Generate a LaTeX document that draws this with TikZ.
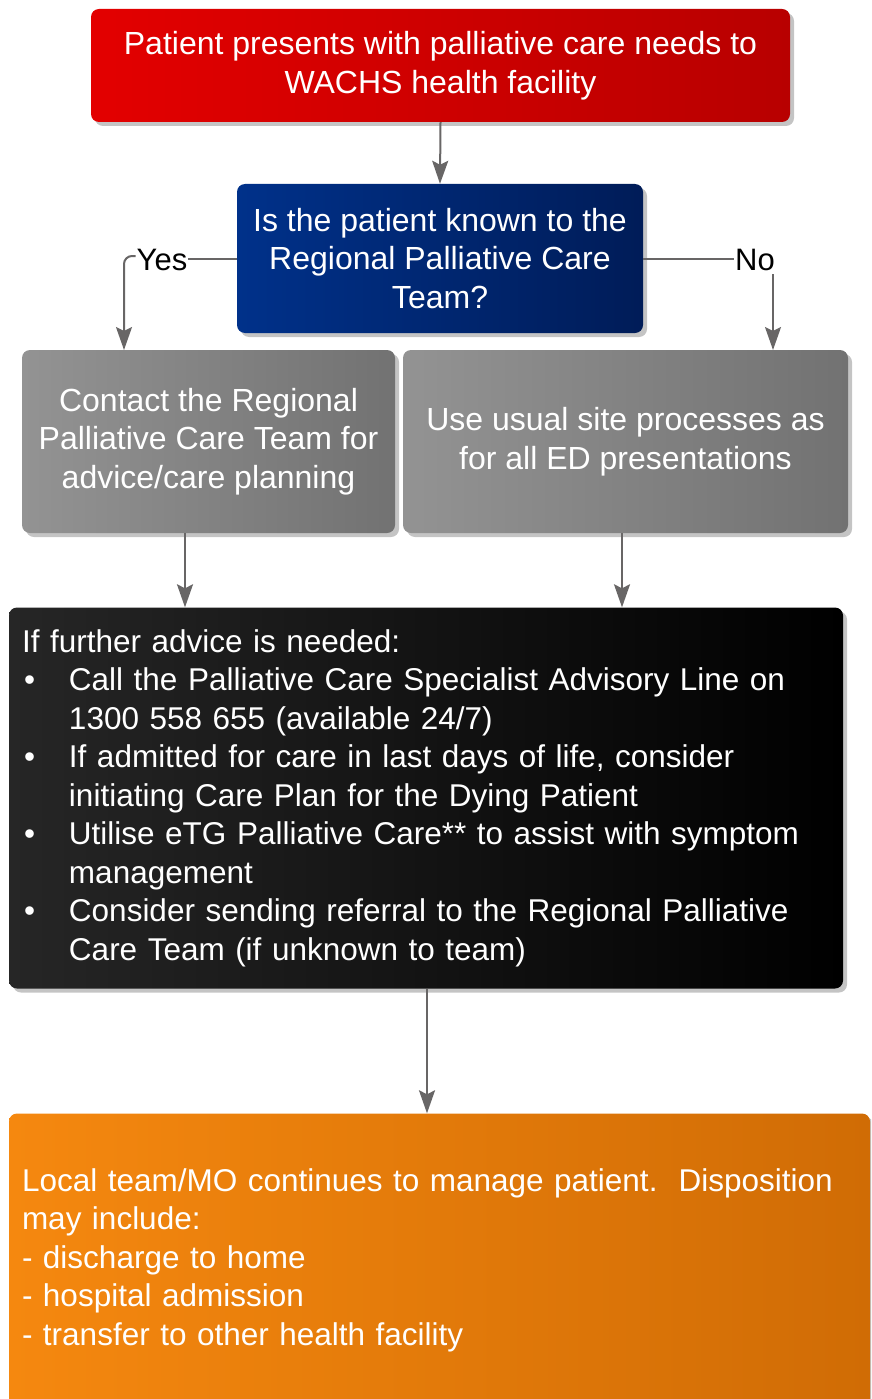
\documentclass[tikz,border=0pt]{standalone}
\usepackage{fontspec}
\setmainfont{Liberation Sans}
\usetikzlibrary{arrows.meta,shadows,calc}
\definecolor{redA}{HTML}{E30000}
\definecolor{redB}{HTML}{B80000}
\definecolor{blueA}{HTML}{00318A}
\definecolor{blueB}{HTML}{001C58}
\definecolor{greyA}{HTML}{939393}
\definecolor{greyB}{HTML}{727272}
\definecolor{blkA}{HTML}{262626}
\definecolor{blkB}{HTML}{000000}
\definecolor{orA}{HTML}{F5880F}
\definecolor{orB}{HTML}{D06C05}
\definecolor{arrC}{HTML}{686666}
\definecolor{shC}{HTML}{C4C4C4}
\tikzset{
  box/.style={rounded corners=8pt, inner sep=0pt, text=white,
    drop shadow={shadow xshift=4pt, shadow yshift=-4pt, fill=shC, opacity=1, rounded corners=8pt}},
  cbox/.style={box, align=center, font=\fontsize{32}{38.5}\selectfont},
  lbox/.style={box, align=left, inner xsep=13pt, font=\fontsize{31.5}{38.5}\selectfont},
  lab/.style={font=\fontsize{31}{36}\selectfont, inner sep=1pt, text=black},
  conn/.style={draw=arrC, line width=2pt},
  arr/.style={conn, -{Stealth[length=23pt,width=16pt,inset=4pt]}},
}
\begin{document}
\begin{tikzpicture}[x=1pt,y=-1pt]
\useasboundingbox (0,0) rectangle (871,1399);
\begin{scope}
\clip (0,0) rectangle (871,1399);
\node[cbox, left color=redA, right color=redB, minimum width=699pt, minimum height=113pt] (start) at (440.5,65.5)
  {Patient presents with palliative care needs to\\WACHS health facility};
\node[cbox, left color=blueA, right color=blueB, minimum width=406pt, minimum height=149pt] (q) at (440,258.5)
  {Is the patient known to the\\Regional Palliative Care\\Team?};
\node[cbox, left color=greyA, right color=greyB, minimum width=373pt, minimum height=183pt] (known) at (208.5,441.5)
  {Contact the Regional\\Palliative Care Team for\\advice/care planning};
\node[cbox, left color=greyA, right color=greyB, minimum width=445pt, minimum height=183pt] (usual) at (625.5,441.5)
  {Use usual site processes as\\for all ED presentations};
\node[lbox, left color=blkA, right color=blkB, text width=808pt, minimum height=381pt] (adv) at (426,798)
  {If further advice is needed:\\
   \makebox[47pt][l]{\hspace{2pt}\textbullet}Call the Palliative Care Specialist Advisory Line on\\
   \hspace*{47pt}1300 558 655 (available 24/7)\\
   \makebox[47pt][l]{\hspace{2pt}\textbullet}If admitted for care in last days of life, consider\\
   \hspace*{47pt}initiating Care Plan for the Dying Patient\\
   \makebox[47pt][l]{\hspace{2pt}\textbullet}Utilise eTG Palliative Care** to assist with symptom\\
   \hspace*{47pt}management\\
   \makebox[47pt][l]{\hspace{2pt}\textbullet}Consider sending referral to the Regional Palliative\\
   \hspace*{47pt}Care Team (if unknown to team)};
\node[lbox, left color=orA, right color=orB, text width=835pt, minimum height=293pt] (local) at (439.5,1260)
  {Local team/MO continues to manage patient.\ \ Disposition\\
   may include:\\
   - discharge to home\\
   - hospital admission\\
   - transfer to other health facility};
\end{scope}
\node[lab] (yes) at (162,260) {Yes};
\node[lab] (no) at (755,260) {No};
\coordinate (yesEnd) at (124,350);
\coordinate (noEnd) at (773,350);
\coordinate (xL) at (185,570);
\coordinate (xR) at (622,570);
\coordinate (xM) at (427,1050);
\draw[arr] (start.south) -- (q.north);
\draw[conn] (q.west) -- (q.west -| yes.east);
\draw[arr, rounded corners=8pt] ([yshift=4pt]yes.west) -| (yesEnd);
\draw[conn] (q.east) -- (q.east -| no.west);
\draw[arr] ([yshift=-2pt]noEnd |- no.south) -- (noEnd);
\draw[arr] (xL |- known.south) -- (xL |- adv.north);
\draw[arr] (xR |- usual.south) -- (xR |- adv.north);
\draw[arr] (xM |- adv.south) -- (xM |- local.north);
\end{tikzpicture}
\end{document}
